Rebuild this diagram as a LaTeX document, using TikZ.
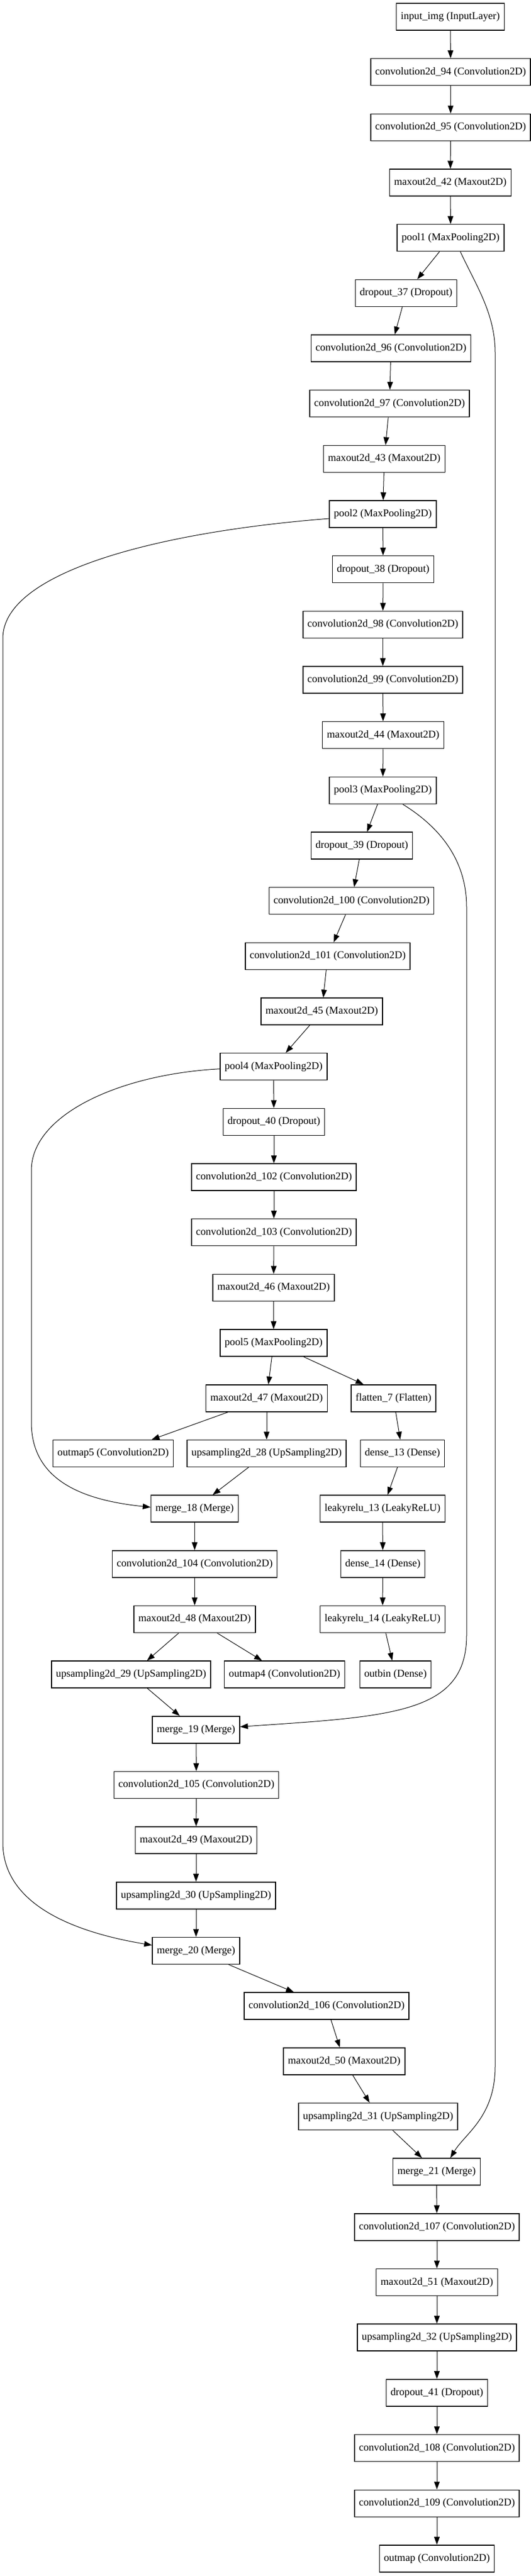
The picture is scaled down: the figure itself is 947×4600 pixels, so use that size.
\documentclass[tikz,border=0pt]{standalone}
\usepackage{fontspec}
\setmainfont{Liberation Serif}
\usetikzlibrary{arrows.meta}

\begin{document}
\begin{tikzpicture}[x=0.75pt, y=-0.75pt,
  layer/.style={draw=black, line width=1.1pt, fill=white, minimum height=36pt, inner xsep=6pt, inner ysep=0pt, font=\fontsize{14}{16}\selectfont},
  flow/.style={-{Triangle[length=10.5pt, width=7.5pt]}, line width=0.75pt}]
  \useasboundingbox (0,0) rectangle (947,4600);

  % encoder
  \node[layer] (input) at (804,30) {input\_img (InputLayer)};
  \node[layer] (conv94) at (804.5,128.7) {convolution2d\_94 (Convolution2D)};
  \node[layer] (conv95) at (804.5,227.3) {convolution2d\_95 (Convolution2D)};
  \node[layer] (max42) at (804,326) {maxout2d\_42 (Maxout2D)};
  \node[layer] (pool1) at (804.5,424.7) {pool1 (MaxPooling2D)};
  \node[layer] (drop37) at (725,523.4) {dropout\_37 (Dropout)};
  \node[layer] (conv96) at (698,622) {convolution2d\_96 (Convolution2D)};
  \node[layer] (conv97) at (695.5,720.7) {convolution2d\_97 (Convolution2D)};
  \node[layer] (max43) at (686,819.4) {maxout2d\_43 (Maxout2D)};
  \node[layer] (pool2) at (683.5,918) {pool2 (MaxPooling2D)};
  \node[layer] (drop38) at (684,1016.7) {dropout\_38 (Dropout)};
  \node[layer] (conv98) at (683.5,1115.4) {convolution2d\_98 (Convolution2D)};
  \node[layer] (conv99) at (683.5,1214) {convolution2d\_99 (Convolution2D)};
  \node[layer] (max44) at (684,1312.7) {maxout2d\_44 (Maxout2D)};
  \node[layer] (pool3) at (683.5,1411.4) {pool3 (MaxPooling2D)};
  \node[layer] (drop39) at (646,1510) {dropout\_39 (Dropout)};
  \node[layer] (conv100) at (627.5,1608.7) {convolution2d\_100 (Convolution2D)};
  \node[layer] (conv101) at (585,1707.4) {convolution2d\_101 (Convolution2D)};
  \node[layer] (max45) at (574.5,1806.1) {maxout2d\_45 (Maxout2D)};
  \node[layer] (pool4) at (488.5,1904.7) {pool4 (MaxPooling2D)};
  \node[layer] (drop40) at (489,2003.4) {dropout\_40 (Dropout)};
  \node[layer] (conv102) at (489,2102.1) {convolution2d\_102 (Convolution2D)};
  \node[layer] (conv103) at (489,2200.7) {convolution2d\_103 (Convolution2D)};
  \node[layer] (max46) at (488.5,2299.4) {maxout2d\_46 (Maxout2D)};
  \node[layer] (pool5) at (488.5,2398.1) {pool5 (MaxPooling2D)};

  % heads
  \node[layer] (max47) at (476,2496.8) {maxout2d\_47 (Maxout2D)};
  \node[layer] (flat7) at (702.5,2496.8) {flatten\_7 (Flatten)};
  \node[layer] (outmap5) at (202,2595.4) {outmap5 (Convolution2D)};
  \node[layer] (up28) at (476,2595.4) {upsampling2d\_28 (UpSampling2D)};
  \node[layer] (dense13) at (718.5,2595.4) {dense\_13 (Dense)};
  \node[layer] (merge18) at (347.5,2694.1) {merge\_18 (Merge)};
  \node[layer] (leaky13) at (683,2694.1) {leakyrelu\_13 (LeakyReLU)};
  \node[layer] (conv104) at (347.5,2792.8) {convolution2d\_104 (Convolution2D)};
  \node[layer] (dense14) at (683.5,2792.8) {dense\_14 (Dense)};
  \node[layer] (max48) at (347.5,2891.4) {maxout2d\_48 (Maxout2D)};
  \node[layer] (leaky14) at (683,2891.4) {leakyrelu\_14 (LeakyReLU)};
  \node[layer] (up29) at (234,2990.1) {upsampling2d\_29 (UpSampling2D)};
  \node[layer] (outmap4) at (508,2990.1) {outmap4 (Convolution2D)};
  \node[layer] (outbin) at (706,2990.1) {outbin (Dense)};

  % decoder
  \node[layer] (merge19) at (350,3088.8) {merge\_19 (Merge)};
  \node[layer] (conv105) at (350.5,3187.4) {convolution2d\_105 (Convolution2D)};
  \node[layer] (max49) at (350,3286.1) {maxout2d\_49 (Maxout2D)};
  \node[layer] (up30) at (350,3384.8) {upsampling2d\_30 (UpSampling2D)};
  \node[layer] (merge20) at (350,3483.5) {merge\_20 (Merge)};
  \node[layer] (conv106) at (583,3582.1) {convolution2d\_106 (Convolution2D)};
  \node[layer] (max50) at (614.5,3680.8) {maxout2d\_50 (Maxout2D)};
  \node[layer] (up31) at (675,3779.5) {upsampling2d\_31 (UpSampling2D)};
  \node[layer] (merge21) at (779.5,3878.1) {merge\_21 (Merge)};
  \node[layer] (conv107) at (780,3976.8) {convolution2d\_107 (Convolution2D)};
  \node[layer] (max51) at (780,4075.5) {maxout2d\_51 (Maxout2D)};
  \node[layer] (up32) at (780,4174.1) {upsampling2d\_32 (UpSampling2D)};
  \node[layer] (drop41) at (780,4272.8) {dropout\_41 (Dropout)};
  \node[layer] (conv108) at (780,4371.5) {convolution2d\_108 (Convolution2D)};
  \node[layer] (conv109) at (780,4470.2) {convolution2d\_109 (Convolution2D)};
  \node[layer] (outmap) at (780,4568.8) {outmap (Convolution2D)};

  \foreach \a/\b in {input/conv94, conv94/conv95, conv95/max42, max42/pool1, pool1/drop37, drop37/conv96,
    conv96/conv97, conv97/max43, max43/pool2, pool2/drop38, drop38/conv98, conv98/conv99, conv99/max44,
    max44/pool3, pool3/drop39, drop39/conv100, conv100/conv101, conv101/max45, max45/pool4, pool4/drop40,
    drop40/conv102, conv102/conv103, conv103/max46, max46/pool5, pool5/max47, pool5/flat7, max47/outmap5,
    max47/up28, up28/merge18, flat7/dense13, dense13/leaky13, leaky13/dense14, dense14/leaky14,
    leaky14/outbin, merge18/conv104, conv104/max48, max48/up29, max48/outmap4, up29/merge19,
    merge19/conv105, conv105/max49, max49/up30, up30/merge20, merge20/conv106, conv106/max50,
    max50/up31, up31/merge21, merge21/conv107, conv107/max51, max51/up32, up32/drop41,
    drop41/conv108, conv108/conv109, conv109/outmap}
    \draw[flow] (\a) -- (\b);

  % skip connections
  \draw[flow] ([yshift=-6pt]pool2.west) .. controls (280,950) and (5,1022) .. (5,1140) -- (5,3290)
    .. controls (5,3400) and (130,3450) .. ([yshift=7.5pt]merge20.west);
  \draw[flow] ([yshift=-3pt]pool4.west) .. controls (215,1918) and (56,1990) .. (56,2090) -- (56,2540)
    .. controls (56,2650) and (160,2680) .. ([yshift=2pt]merge18.west);
  \draw[flow] ([xshift=26.6pt]pool3.south) .. controls (790,1480) and (833,1540) .. (833,1620) -- (833,2920)
    .. controls (833,3060) and (700,3065) .. ([yshift=4pt]merge19.east);
  \draw[flow] ([xshift=13pt]pool1.south) .. controls (850,510) and (884,560) .. (884,630) -- (884,3690)
    .. controls (884,3780) and (830,3810) .. ([xshift=18.4pt]merge21.north);
\end{tikzpicture}
\end{document}
